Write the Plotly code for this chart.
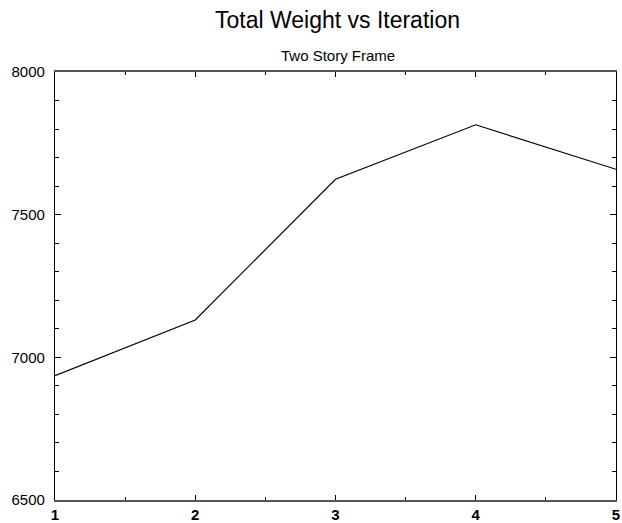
import plotly.graph_objects as go

iterations = [1, 2, 3, 4, 5]
total_weight = [6936, 7131, 7624, 7815, 7659]
x_tick_vals = [1, 2, 3, 4, 5]
y_tick_vals = [6500, 7000, 7500, 8000]

fig = go.Figure()
fig.add_trace(go.Scatter(x=iterations, y=total_weight, mode="lines",
                         line=dict(color="black", width=1.2), showlegend=False))

fig.update_layout(
    width=622, height=523,
    margin=dict(l=55, r=6, t=72, b=23, autoexpand=False),
    paper_bgcolor="white", plot_bgcolor="white",
    font=dict(family="Liberation Sans, Arial, sans-serif", color="black"),
    title=dict(text="Total Weight vs Iteration", x=0.5426, xanchor="center",
               y=0.962, yanchor="middle", font=dict(size=23, color="black")),
    annotations=[dict(text="Two Story Frame", xref="paper", yref="paper",
                      x=0.5036, y=1.0374, yanchor="middle", showarrow=False,
                      font=dict(size=15, color="black"))],
)
fig.update_xaxes(range=[1, 5], tickvals=x_tick_vals, ticktext=[str(v) for v in x_tick_vals],
                 automargin=False, ticklabeloverflow="allow",
                 showline=True, linecolor="#555", linewidth=1.5, mirror="ticks",
                 ticks="inside", ticklen=5, tickcolor="black", showgrid=False, zeroline=False,
                 tickfont=dict(size=15, weight="bold"),
                 minor=dict(ticks="inside", ticklen=3, dtick=0.5, tick0=1, tickcolor="black", showgrid=False))
fig.update_yaxes(range=[6500, 8000], tickvals=y_tick_vals,
                 automargin=False, ticklabeloverflow="allow",
                 showline=True, linecolor="black", linewidth=1.2, mirror="ticks",
                 ticks="inside", ticklen=6, tickcolor="black", showgrid=False, zeroline=False,
                 tickfont=dict(size=15), ticklabelstandoff=6,
                 minor=dict(ticks="inside", ticklen=4, dtick=100, tick0=6500, tickcolor="black", showgrid=False))

fig.write_html("out.html", config={"displayModeBar": False},
               post_script="document.body.style.margin='0';")
